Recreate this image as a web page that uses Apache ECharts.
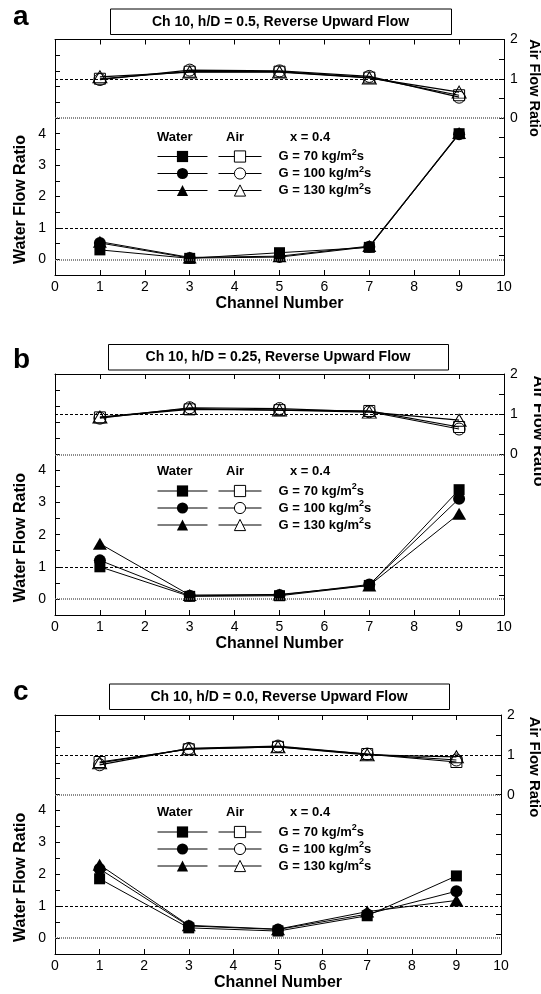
<!DOCTYPE html>
<html><head><meta charset="utf-8">
<script src="https://cdn.jsdelivr.net/npm/echarts@6/dist/echarts.min.js"></script>
<style>html,body{margin:0;padding:0;background:#fff}#c{width:541px;height:994px}</style>
</head><body><div id="c"></div>
<script>
// ---------- data ----------
const channels = [1, 3, 5, 7, 9];
const waterTickLabels = [0, 1, 2, 3, 4];
const airTickLabels = [0, 1, 2];
const panelLetters = ['a', 'b', 'c'];
const panelTitles = [
  'Ch 10, h/D = 0.5, Reverse Upward Flow',
  'Ch 10, h/D = 0.25, Reverse Upward Flow',
  'Ch 10, h/D = 0.0, Reverse Upward Flow'
];
const massFluxes = [70, 100, 130];
const qualityLabel = 'x = 0.4';

const waterA70  = [0.30, 0.03, 0.21, 0.38, 4.00];
const waterA100 = [0.52, 0.04, 0.07, 0.40, 3.98];
const waterA130 = [0.56, 0.06, 0.10, 0.42, 4.02];
const airA70    = [1.00, 1.18, 1.18, 1.03, 0.58];
const airA100   = [0.98, 1.22, 1.20, 1.06, 0.53];
const airA130   = [1.05, 1.17, 1.17, 1.02, 0.66];

const waterB70  = [1.00, 0.08, 0.10, 0.42, 3.40];
const waterB100 = [1.20, 0.10, 0.12, 0.45, 3.12];
const waterB130 = [1.72, 0.12, 0.14, 0.42, 2.65];
const airB70    = [0.92, 1.12, 1.10, 1.08, 0.68];
const airB100   = [0.90, 1.16, 1.14, 1.06, 0.63];
const airB130   = [0.93, 1.14, 1.10, 1.05, 0.85];

const waterC70  = [1.86, 0.32, 0.22, 0.70, 1.95];
const waterC100 = [2.17, 0.38, 0.27, 0.75, 1.47];
const waterC130 = [2.30, 0.40, 0.28, 0.83, 1.18];
const airC70    = [0.82, 1.14, 1.20, 1.02, 0.82];
const airC100   = [0.75, 1.16, 1.22, 1.02, 0.87];
const airC130   = [0.80, 1.15, 1.20, 1.00, 0.95];

const waterSets = [[waterA70, waterA100, waterA130], [waterB70, waterB100, waterB130], [waterC70, waterC100, waterC130]];
const airSets = [[airA70, airA100, airA130], [airB70, airB100, airB130], [airC70, airC100, airC130]];

// ---------- layout / style ----------
const FONT = '"Liberation Sans", Arial, Helvetica, sans-serif';
const panels = [
  { top: 39.5, height: 235.5, left: 55, width: 449, box: [110, 8.5, 341, 25.5], letterBase: 27,
    airName: { x: 534, y: 88, size: 14.5 } },
  { top: 374, height: 241, left: 55, width: 449, box: [108, 344, 340, 25.5], letterBase: 370,
    airName: { x: 539, y: 431, size: 16.5 } },
  { top: 715, height: 239, left: 55, width: 446, box: [109, 683.5, 340, 25.5], letterBase: 702,
    airName: { x: 534, y: 767, size: 15 } }
];
const symbols = ['rect', 'circle', 'triangle'];
const symbolSizes = [11, 12, [14, 12]];
const WMIN = -0.5, WMAX = 7, AMIN = -4, AMAX = 2;

const isInt = v => Math.abs(v - Math.round(v)) < 1e-9;
const fluxText = f => 'G = ' + f + ' kg/m{sup|2}s';
const richSup = { sup: { fontSize: 9, fontWeight: 'bold', verticalAlign: 'top', lineHeight: 17, fontFamily: FONT } };

const grid = [], xAxis = [], yAxis = [], series = [], legend = [], graphic = [];

panels.forEach((p, i) => {
  grid.push({ left: p.left, top: p.top, width: p.width, height: p.height, containLabel: false });
  const axLine = { show: true, onZero: false, lineStyle: { color: '#000', width: 1 } };
  const tick = { show: true, inside: true, length: 5, lineStyle: { color: '#000', width: 1 } };
  xAxis.push({
    type: 'value', gridIndex: i, min: 0, max: 10, interval: 1, position: 'bottom',
    axisLine: axLine, axisTick: tick, splitLine: { show: false },
    axisLabel: { color: '#000', fontSize: 14, margin: 5, fontFamily: FONT },
    name: 'Channel Number', nameLocation: 'middle', nameGap: 21,
    nameTextStyle: { color: '#000', fontSize: 16, fontWeight: 'bold', fontFamily: FONT }
  });
  xAxis.push({
    type: 'value', gridIndex: i, min: 0, max: 10, interval: 1, position: 'top',
    axisLine: axLine, axisTick: tick, splitLine: { show: false }, axisLabel: { show: false }
  });
  yAxis.push({
    type: 'value', gridIndex: i, min: WMIN, max: WMAX, interval: 0.5, position: 'left',
    axisLine: axLine, axisTick: tick, splitLine: { show: false },
    axisLabel: { color: '#000', fontSize: 14, margin: 9, fontFamily: FONT,
      formatter: v => (isInt(v) && waterTickLabels.includes(Math.round(v))) ? String(Math.round(v)) : '' }
  });
  yAxis.push({
    type: 'value', gridIndex: i, min: AMIN, max: AMAX, interval: 0.5, position: 'right',
    axisLine: axLine, axisTick: tick, splitLine: { show: false },
    axisLabel: { color: '#000', fontSize: 14, margin: 6, fontFamily: FONT,
      formatter: v => (isInt(v) && airTickLabels.includes(Math.round(v))) ? String(Math.round(v)) : '' }
  });

  const refLines = {
    silent: true, symbol: ['none', 'none'], label: { show: false }, animation: false,
    data: [
      { yAxis: 0, lineStyle: { color: '#666', width: 1.5, type: [1, 1] } },
      { yAxis: 1, lineStyle: { color: '#000', width: 1, type: [3, 2] } }
    ]
  };

  const L = panelLetters[i];
  const wNames = [], aNames = [];
  massFluxes.forEach((f, j) => {
    const wn = L + '-water-' + f, an = L + '-air-' + f;
    wNames.push(wn); aNames.push(an);
    series.push({
      type: 'line', name: wn, xAxisIndex: 2 * i, yAxisIndex: 2 * i,
      data: channels.map((c, k) => [c, waterSets[i][j][k]]),
      symbol: symbols[j], symbolSize: symbolSizes[j],
      itemStyle: { color: '#000' }, lineStyle: { color: '#000', width: 1 },
      animation: false, z: 4,
      markLine: j === 0 ? refLines : undefined
    });
    series.push({
      type: 'line', name: an, xAxisIndex: 2 * i, yAxisIndex: 2 * i + 1,
      data: channels.map((c, k) => [c, airSets[i][j][k]]),
      symbol: symbols[j], symbolSize: symbolSizes[j],
      itemStyle: { color: 'rgba(0,0,0,0)', borderColor: '#000', borderWidth: 1 },
      lineStyle: { color: '#000', width: 1.2 },
      animation: false, z: 4,
      markLine: j === 0 ? refLines : undefined
    });
  });

  const rowTop = p.top + 108.5;
  const fluxByName = n => n.split('-')[2];
  legend.push({
    data: wNames, orient: 'vertical', left: 157, top: rowTop, itemWidth: 50, itemHeight: 14, itemGap: 0,
    selectedMode: false, padding: 0,
    itemStyle: { color: '#000', borderWidth: 0 }, lineStyle: { color: '#000', width: 1 },
    formatter: n => fluxText(fluxByName(n)),
    textStyle: { color: 'rgba(0,0,0,0)', fontSize: 13, fontWeight: 'bold', lineHeight: 17, fontFamily: FONT,
      rich: { sup: Object.assign({}, richSup.sup, { color: 'rgba(0,0,0,0)' }) } }
  });
  legend.push({
    data: aNames, orient: 'vertical', left: 218, top: rowTop, itemWidth: 43, itemHeight: 14, itemGap: 0,
    selectedMode: false, padding: 0,
    itemStyle: { color: '#fff', borderColor: '#000', borderWidth: 1 }, lineStyle: { color: '#000', width: 1 },
    formatter: n => fluxText(fluxByName(n)),
    textStyle: { color: '#000', fontSize: 13, fontWeight: 'bold', lineHeight: 17, fontFamily: FONT,
      padding: [0, 0, 0, 12], rich: { sup: Object.assign({}, richSup.sup, { color: '#000' }) } }
  });

  // legend headers
  const hy = p.top + 99;
  const hdr = { fontSize: 13, fontWeight: 'bold', fontFamily: FONT, fill: '#000', verticalAlign: 'middle' };
  graphic.push({ type: 'text', left: 157, top: hy - 8, style: Object.assign({ text: 'Water' }, hdr) });
  graphic.push({ type: 'text', left: 226, top: hy - 8, style: Object.assign({ text: 'Air' }, hdr) });
  graphic.push({ type: 'text', left: 290, top: hy - 8, style: Object.assign({ text: qualityLabel }, hdr) });

  // title box
  const b = p.box;
  graphic.push({ type: 'rect', shape: { x: b[0] + 0.5, y: b[1] + 0.5, width: b[2], height: b[3] },
    style: { fill: 'none', stroke: '#000', lineWidth: 1 } });
  graphic.push({ type: 'text', x: b[0] + b[2] / 2, y: b[1] + b[3] / 2 + 0.5,
    style: { text: panelTitles[i], fontSize: 14, fontWeight: 'bold', fontFamily: FONT, fill: '#000', align: 'center', verticalAlign: 'middle' } });

  // panel letter
  graphic.push({ type: 'text', x: 13, y: p.letterBase - 9.5,
    style: { text: L, fontSize: 28, fontWeight: 'bold', fontFamily: FONT, fill: '#000', align: 'left', verticalAlign: 'middle' } });

  // axis names
  const wUnit = p.height / (WMAX - WMIN);
  const yW2 = p.top + (WMAX - 2) * wUnit;
  graphic.push({ type: 'text', x: 20.5, y: yW2 + 3, rotation: Math.PI / 2,
    style: { text: 'Water Flow Ratio', fontSize: 16, fontWeight: 'bold', fontFamily: FONT, fill: '#000', align: 'center', verticalAlign: 'middle' } });
  graphic.push({ type: 'text', x: p.airName.x, y: p.airName.y, rotation: -Math.PI / 2,
    style: { text: 'Air Flow Ratio', fontSize: p.airName.size, fontWeight: 'bold', fontFamily: FONT, fill: '#000', align: 'center', verticalAlign: 'middle' } });
});

const chart = echarts.init(document.getElementById('c'), null, { renderer: 'canvas' });
chart.setOption({
  backgroundColor: '#fff',
  animation: false,
  textStyle: { fontFamily: FONT },
  grid, xAxis, yAxis, series, legend, graphic
});
</script>
</body></html>
